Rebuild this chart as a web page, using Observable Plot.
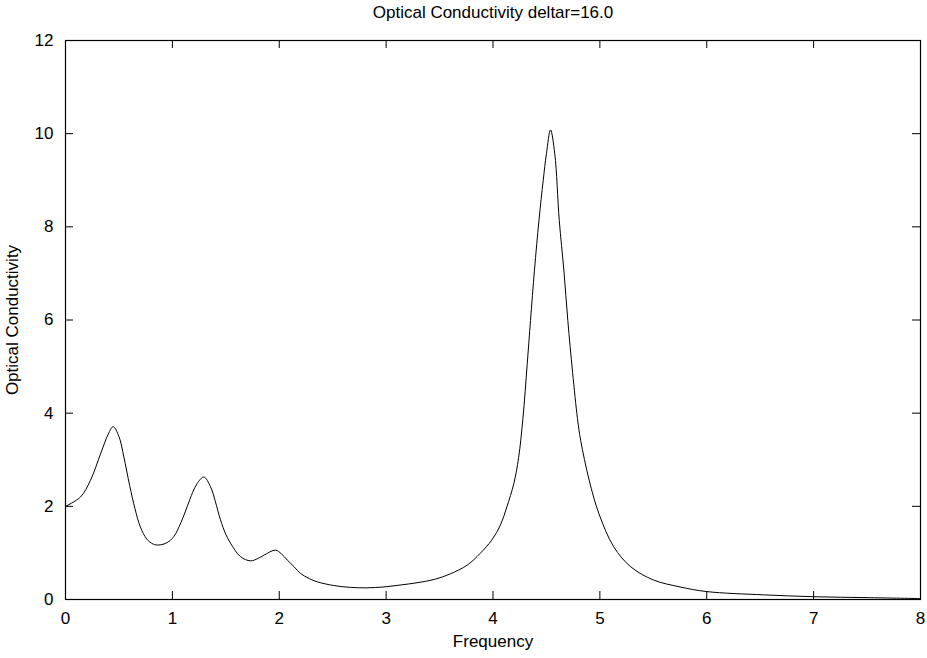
<!DOCTYPE html>
<html>
<head>
<meta charset="utf-8">
<script src="https://cdn.jsdelivr.net/npm/d3@7"></script>
<script src="https://cdn.jsdelivr.net/npm/@observablehq/plot@0.6"></script>
<style>
  html, body { margin: 0; padding: 0; background: #fff; }
  svg { font-family: "Liberation Sans", Arial, sans-serif; }
</style>
</head>
<body>
<div id="chart"></div>
<script>
const titleText = "Optical Conductivity deltar=16.0";
const xLabel = "Frequency";
const yLabel = "Optical Conductivity";
const xTicks = [0, 1, 2, 3, 4, 5, 6, 7, 8];
const yTicks = [0, 2, 4, 6, 8, 10, 12];

const frequency = [
  0.0, 0.14, 0.234, 0.33, 0.40, 0.446, 0.50, 0.546, 0.60, 0.65,
  0.70, 0.76, 0.82, 0.874, 0.95, 1.013, 1.08, 1.138, 1.19, 1.232,
  1.294, 1.357, 1.40, 1.45, 1.50, 1.544, 1.637, 1.731, 1.80, 1.856,
  1.965, 2.02, 2.074, 2.14, 2.199, 2.28, 2.355, 2.51, 2.667, 2.82,
  2.98, 3.13, 3.29, 3.45, 3.60, 3.76, 3.88, 3.99, 4.07, 4.13,
  4.195, 4.24, 4.28, 4.32, 4.351, 4.388, 4.43, 4.47, 4.50, 4.538,
  4.578, 4.62, 4.663, 4.70, 4.745, 4.79, 4.82, 4.90, 4.99, 5.13,
  5.29, 5.50, 5.75, 6.0, 6.53, 7.0, 7.5, 8.0
];
const conductivity = [
  2.0, 2.20, 2.56, 3.14, 3.55, 3.71, 3.50, 3.06, 2.45, 1.95,
  1.56, 1.30, 1.19, 1.17, 1.22, 1.35, 1.65, 1.99, 2.30, 2.49,
  2.63, 2.42, 2.12, 1.71, 1.40, 1.21, 0.92, 0.83, 0.88, 0.95,
  1.06, 0.98, 0.85, 0.70, 0.56, 0.45, 0.38, 0.30, 0.26, 0.25,
  0.27, 0.31, 0.36, 0.43, 0.55, 0.74, 0.99, 1.28, 1.60, 1.99,
  2.49, 3.05, 3.89, 5.05, 5.99, 7.07, 8.14, 9.0, 9.57, 10.08,
  9.57, 8.14, 7.07, 5.99, 4.87, 3.89, 3.42, 2.56, 1.85, 1.13,
  0.70, 0.42, 0.27, 0.17, 0.10, 0.06, 0.04, 0.02
];

const data = frequency.map((f, i) => ({f, c: conductivity[i]}));

const W = 927, H = 658;
const mL = 65, mR = 7, mT = 40, mB = 59;
const fw = W - mL - mR, fh = H - mT - mB;
const tickLen = 8;
const fs = 17;

const chart = Plot.plot({
  width: W,
  height: H,
  marginLeft: mL,
  marginRight: mR,
  marginTop: mT,
  marginBottom: mB,
  style: {fontSize: fs + "px", fontFamily: "'Liberation Sans', Arial, sans-serif", color: "#000", background: "#fff"},
  x: {domain: [0, 8]},
  y: {domain: [0, 12]},
  marks: [
    Plot.axisX(xTicks, {tickSize: 0, tickPadding: 12, label: null, fontSize: fs}),
    Plot.axisY(yTicks, {tickSize: 0, tickPadding: 12, label: null, fontSize: fs}),
    Plot.tickX(xTicks, {x: d => d, insetTop: fh - tickLen, stroke: "#000"}),
    Plot.tickX(xTicks, {x: d => d, insetBottom: fh - tickLen, stroke: "#000"}),
    Plot.tickY(yTicks, {y: d => d, insetRight: fw - tickLen, stroke: "#000"}),
    Plot.tickY(yTicks, {y: d => d, insetLeft: fw - tickLen, stroke: "#000"}),
    Plot.line(data, {x: "f", y: "c", stroke: "#000", strokeWidth: 1, curve: "catmull-rom"}),
    Plot.frame({stroke: "#000", strokeWidth: 1.2}),
    Plot.text([titleText], {frameAnchor: "top", dy: -28, textAnchor: "middle", lineAnchor: "middle", fontSize: fs, fill: "#000"}),
    Plot.text([xLabel], {frameAnchor: "bottom", dy: 42, textAnchor: "middle", lineAnchor: "middle", fontSize: fs, fill: "#000"}),
    Plot.text([yLabel], {frameAnchor: "left", dx: -53, rotate: -90, textAnchor: "middle", lineAnchor: "middle", fontSize: fs, fill: "#000"})
  ]
});
document.getElementById("chart").appendChild(chart);
</script>
</body>
</html>
